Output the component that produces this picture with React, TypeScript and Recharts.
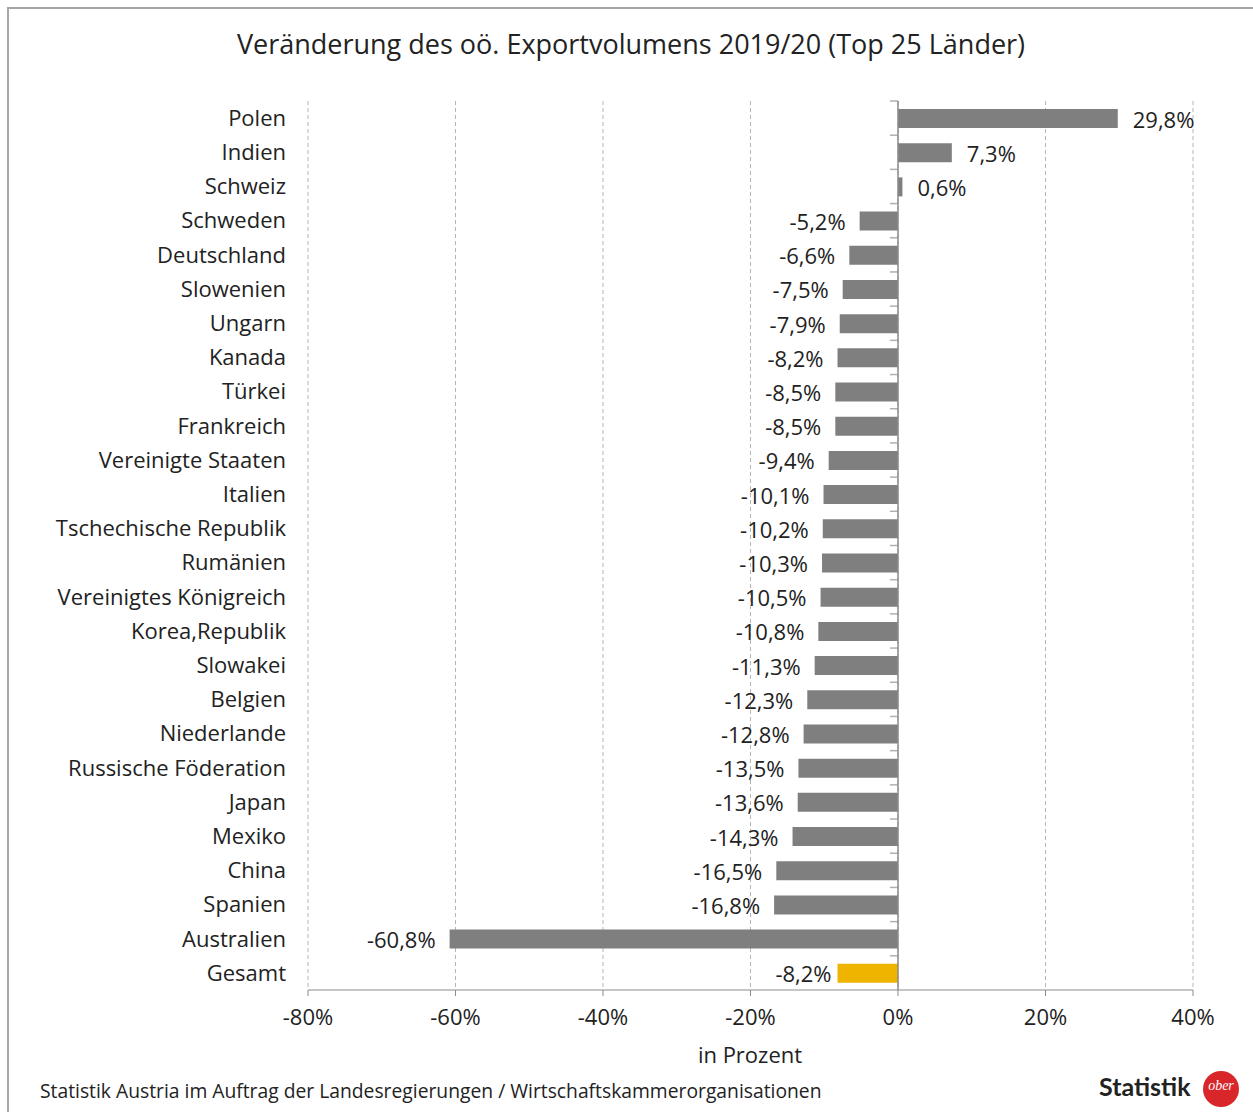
import React from 'react';
import { BarChart, Bar, XAxis, YAxis, CartesianGrid, ReferenceLine, LabelList, Cell } from 'recharts';

const countries = [
  'Polen', 'Indien', 'Schweiz', 'Schweden', 'Deutschland', 'Slowenien', 'Ungarn', 'Kanada', 'Türkei',
  'Frankreich', 'Vereinigte Staaten', 'Italien', 'Tschechische Republik', 'Rumänien', 'Vereinigtes Königreich',
  'Korea,Republik', 'Slowakei', 'Belgien', 'Niederlande', 'Russische Föderation', 'Japan', 'Mexiko', 'China',
  'Spanien', 'Australien', 'Gesamt',
];
const changes = [
  29.8, 7.3, 0.6, -5.2, -6.6, -7.5, -7.9, -8.2, -8.5, -8.5, -9.4, -10.1, -10.2, -10.3, -10.5, -10.8, -11.3,
  -12.3, -12.8, -13.5, -13.6, -14.3, -16.5, -16.8, -60.8, -8.2,
];
const xTicks = [-80, -60, -40, -20, 0, 20, 40];
const totalLabel = 'Gesamt';

const data = countries.map((c, i) => ({ name: c, value: changes[i] }));

const FONT = '"Open Sans", "Liberation Sans", sans-serif';
const fmt = (v: number) => v.toFixed(1).replace('.', ',') + '%';

const BarLabel = (props: any) => {
  const { x, y, width, height, value, index } = props;
  const x1 = Number(x);
  const x2 = Number(x) + Number(width);
  const cy = Number(y) + Number(height) / 2;
  const isTotal = data[index] && data[index].name === totalLabel;
  if (value < 0) {
    const end = Math.min(x1, x2);
    return (
      <text x={end - (isTotal ? 6 : 14)} y={cy} textAnchor="end" dominantBaseline="central" fontSize={22} fill="#222" fontFamily={FONT}>
        {fmt(value)}
      </text>
    );
  }
  const end = Math.max(x1, x2);
  return (
    <text x={end + 15} y={cy} textAnchor="start" dominantBaseline="central" fontSize={22} fill="#222" fontFamily={FONT}>
      {fmt(value)}
    </text>
  );
};

const ZeroLine = (props: any) => {
  const { x1, y1, x2, y2 } = props;
  const top = Math.min(y1, y2);
  const bottom = Math.max(y1, y2);
  const n = data.length;
  const step = (bottom - top) / n;
  const marks = [];
  for (let i = 0; i < n; i++) {
    const yy = top + i * step;
    marks.push(<line key={i} x1={x1 - 8} x2={x1} y1={yy} y2={yy} stroke="#b0b0b0" strokeWidth={1.5} />);
  }
  return (
    <g>
      {marks}
      <line x1={x1} x2={x2} y1={y1} y2={y2} stroke="#8c8c8c" strokeWidth={1.5} />
    </g>
  );
};

export default function App() {
  return (
    <div style={{ position: 'absolute', left: 0, top: 0, width: 1253, height: 1112, background: '#fff', fontFamily: FONT }}>
      <div style={{ position: 'absolute', left: 7, top: 7, width: 1250, height: 1110, borderLeft: '2px solid #a6a6a6', borderTop: '2px solid #a6a6a6' }} />
      <div style={{ position: 'absolute', left: 0, width: 1262, top: 25, textAlign: 'center', fontSize: 27, color: '#222' }}>
        Veränderung des oö. Exportvolumens 2019/20 (Top 25 Länder)
      </div>
      <div style={{ position: 'absolute', left: 0, top: 0 }}>
        <BarChart
          width={1253}
          height={1112}
          data={data}
          layout="vertical"
          margin={{ top: 101, bottom: 92, left: 18, right: 60 }}
          barCategoryGap={0}
        >
          <CartesianGrid horizontal={false} vertical stroke="#b5b5b5" strokeDasharray="4 3" />
          <XAxis
            type="number"
            domain={[-80, 40]}
            ticks={xTicks}
            tickFormatter={(v: number) => `${v}%`}
            stroke="#8c8c8c"
            tickSize={6}
            tickMargin={13}
            tick={{ fontSize: 22, fill: '#222', fontFamily: FONT }}
            allowDataOverflow
          />
          <YAxis
            type="category"
            dataKey="name"
            width={290}
            axisLine={false}
            tickLine={false}
            tickSize={0}
            tickMargin={22}
            interval={0}
            tick={{ fontSize: 22, fill: '#222', fontFamily: FONT }}
          />
          <ReferenceLine x={0} stroke="#8c8c8c" strokeWidth={1.5} shape={ZeroLine} />
          <Bar dataKey="value" barSize={19} isAnimationActive={false}>
            {data.map((d) => (
              <Cell key={d.name} fill={d.name === totalLabel ? '#EEB400' : '#7f7f7f'} />
            ))}
            <LabelList dataKey="value" content={BarLabel} />
          </Bar>
        </BarChart>
      </div>
      <div style={{ position: 'absolute', left: 650, width: 200, top: 1039, textAlign: 'center', fontSize: 22, color: '#222' }}>
        in Prozent
      </div>
      <div style={{ position: 'absolute', left: 40, top: 1077, fontSize: 19.3, color: '#222' }}>
        Statistik Austria im Auftrag der Landesregierungen / Wirtschaftskammerorganisationen
      </div>
      <div style={{ position: 'absolute', left: 1099, top: 1071, fontSize: 25, fontWeight: 700, color: '#222', fontFamily: '"Lato", sans-serif' }}>
        Statistik
      </div>
      <div style={{ position: 'absolute', left: 1203, top: 1071, width: 36, height: 36, borderRadius: 18, background: '#d9262b', color: '#fff', textAlign: 'center', fontSize: 14, lineHeight: '30px', fontStyle: 'italic', fontFamily: 'serif' }}>
        ober
      </div>
    </div>
  );
}
